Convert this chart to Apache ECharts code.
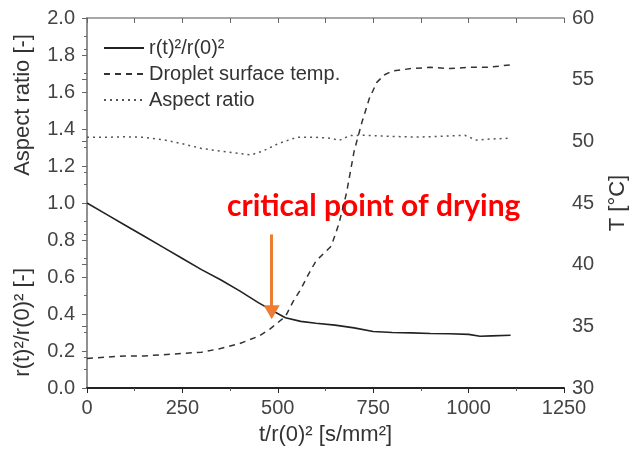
<!DOCTYPE html>
<html><head><meta charset="utf-8">
<script src="https://cdn.jsdelivr.net/npm/echarts@6/dist/echarts.min.js"></script>
<style>html,body{margin:0;padding:0;background:#fff}#c{width:637px;height:451px}</style>
</head><body><div id="c"></div>
<script>
// ---- data ----
const rX  = [0,50,100,150,200,250,300,350,400,450,484,520,560,600,650,700,750,800,850,900,950,1000,1030,1060,1110];
const rY  = [1.0,0.94,0.88,0.82,0.76,0.70,0.64,0.585,0.525,0.46,0.42,0.38,0.36,0.35,0.34,0.325,0.305,0.30,0.298,0.295,0.293,0.29,0.28,0.282,0.285];
const tX  = [0,50,100,150,200,250,300,350,400,450,480,500,520,540,560,580,600,620,640,660,680,700,720,740,760,780,800,850,900,950,1000,1050,1110];
const tY  = [32.4,32.5,32.6,32.6,32.7,32.8,32.9,33.2,33.6,34.2,34.8,35.3,35.8,37.0,38.0,39.2,40.3,40.9,41.5,43.3,45.8,49.2,51.5,53.5,54.8,55.4,55.7,55.9,56.0,55.9,56.0,56.0,56.2];
const aX  = [0,50,100,150,200,250,300,350,400,430,460,500,550,600,640,660,690,730,800,860,920,990,1020,1050,1110];
const aY  = [1.355,1.355,1.358,1.355,1.342,1.32,1.295,1.28,1.268,1.26,1.28,1.32,1.355,1.355,1.35,1.338,1.365,1.366,1.36,1.356,1.36,1.366,1.34,1.345,1.35];
const seriesNames = ['r(t)²/r(0)²','Droplet surface temp.','Aspect ratio'];
const xTicks = [0,250,500,750,1000,1250];
const criticalX = 484, criticalTop = 0.83, criticalTip = 0.41;
const annotationText = 'critical point of drying';

const zip = (xs, ys) => xs.map((x, i) => [x, ys[i]]);
const chart = echarts.init(document.getElementById('c'));
const font = 'Liberation Sans, Arial, sans-serif';
const grey = '#8a8a8a';
chart.setOption({
  animation: false,
  backgroundColor: '#fff',
  grid: {left: 87, right: 69, top: 18, bottom: 62},
  legend: {
    orient: 'vertical', left: 98, top: 33, itemWidth: 40, itemHeight: 14, itemGap: 6,
    data: seriesNames,
    itemStyle: {opacity: 0},
    textStyle: {fontFamily: font, fontSize: 20, color: '#333'}
  },
  xAxis: [{
    type: 'value', min: xTicks[0], max: xTicks[xTicks.length-1], interval: 250,
    name: 't/r(0)² [s/mm²]', nameLocation: 'middle', nameGap: 36,
    nameTextStyle: {fontFamily: font, fontSize: 22, color: '#333'},
    axisLine: {lineStyle: {color: '#222', width: 2}},
    axisTick: {inside: false, length: 5, lineStyle: {color: '#222'}},
    minorTick: {show: true, splitNumber: 2, length: 3, lineStyle: {color: '#555'}},
    axisLabel: {fontFamily: font, fontSize: 20, color: '#444', margin: 10, formatter: v => String(v)},
    splitLine: {show: false}
  }, {
    type: 'value', position: 'top', min: 0, max: 1250, interval: 125,
    axisLine: {lineStyle: {color: grey, width: 1.5}},
    axisTick: {inside: true, length: 5, lineStyle: {color: '#666'}},
    axisLabel: {show: false}, splitLine: {show: false}
  }],
  yAxis: [{
    type: 'value', min: 0, max: 2, interval: 0.2,
    axisLine: {show: true, lineStyle: {color: grey, width: 1.5}},
    axisTick: {show: true, inside: false, length: 5, lineStyle: {color: '#666'}},
    minorTick: {show: true, splitNumber: 2, length: 3, lineStyle: {color: '#666'}},
    axisLabel: {fontFamily: font, fontSize: 20, color: '#444', margin: 12, formatter: v => v.toFixed(1)},
    splitLine: {show: false}
  }, {
    type: 'value', min: 30, max: 60, interval: 5, position: 'right',
    name: 'T [°C]', nameLocation: 'middle', nameGap: 43,
    nameTextStyle: {fontFamily: font, fontSize: 22, color: '#333'},
    axisLine: {show: true, lineStyle: {color: grey, width: 1.5}},
    axisTick: {show: true, inside: true, length: 5, lineStyle: {color: '#666'}},
    minorTick: {show: true, splitNumber: 2, length: 3, lineStyle: {color: '#666'}},
    axisLabel: {fontFamily: font, fontSize: 20, color: '#444', margin: 8},
    splitLine: {show: false}
  }],
  series: [{
    name: seriesNames[0], type: 'line', data: zip(rX, rY), symbol: 'none',
    lineStyle: {color: '#222', width: 1.6, type: 'solid'}, itemStyle: {color: '#222'},
    markLine: {
      silent: true, symbol: ['none', 'triangle'], symbolSize: [16, 14],
      lineStyle: {color: '#ED7D31', width: 3, type: 'solid'},
      label: {show: false},
      data: [[{coord: [criticalX, criticalTop]}, {coord: [criticalX, criticalTip]}]]
    }
  }, {
    name: seriesNames[1], type: 'line', yAxisIndex: 1, data: zip(tX, tY), symbol: 'none',
    lineStyle: {color: '#333', width: 1.5, type: [6, 5]}, itemStyle: {color: '#333'}
  }, {
    name: seriesNames[2], type: 'line', data: zip(aX, aY), symbol: 'none',
    lineStyle: {color: '#555', width: 1.5, type: [2, 4]}, itemStyle: {color: '#555'}
  }]
});
// rotated left axis names and annotation positioned via pixel conversion of the data frame
const p1 = chart.convertToPixel({xAxisIndex: 0, yAxisIndex: 0}, [0, 1.53]);
const p2 = chart.convertToPixel({xAxisIndex: 0, yAxisIndex: 0}, [0, 0.355]);
const pa = chart.convertToPixel({xAxisIndex: 0, yAxisIndex: 0}, [criticalX, criticalTop]);
chart.setOption({
  graphic: [{
    type: 'text', x: 23, y: p1[1], rotation: Math.PI / 2,
    style: {text: 'Aspect ratio [-]', font: '22px ' + font, fill: '#333', align: 'center', verticalAlign: 'middle'}
  }, {
    type: 'text', x: 23, y: p2[1], rotation: Math.PI / 2,
    style: {text: 'r(t)²/r(0)² [-]', font: '22px ' + font, fill: '#333', align: 'center', verticalAlign: 'middle'}
  }, {
    type: 'text', x: pa[0] + 102, y: pa[1] - 28,
    style: {text: annotationText, font: 'bold 30px Lato, "Open Sans", sans-serif', fill: '#FF0000', align: 'center', verticalAlign: 'middle'}
  }]
});
</script></body></html>
